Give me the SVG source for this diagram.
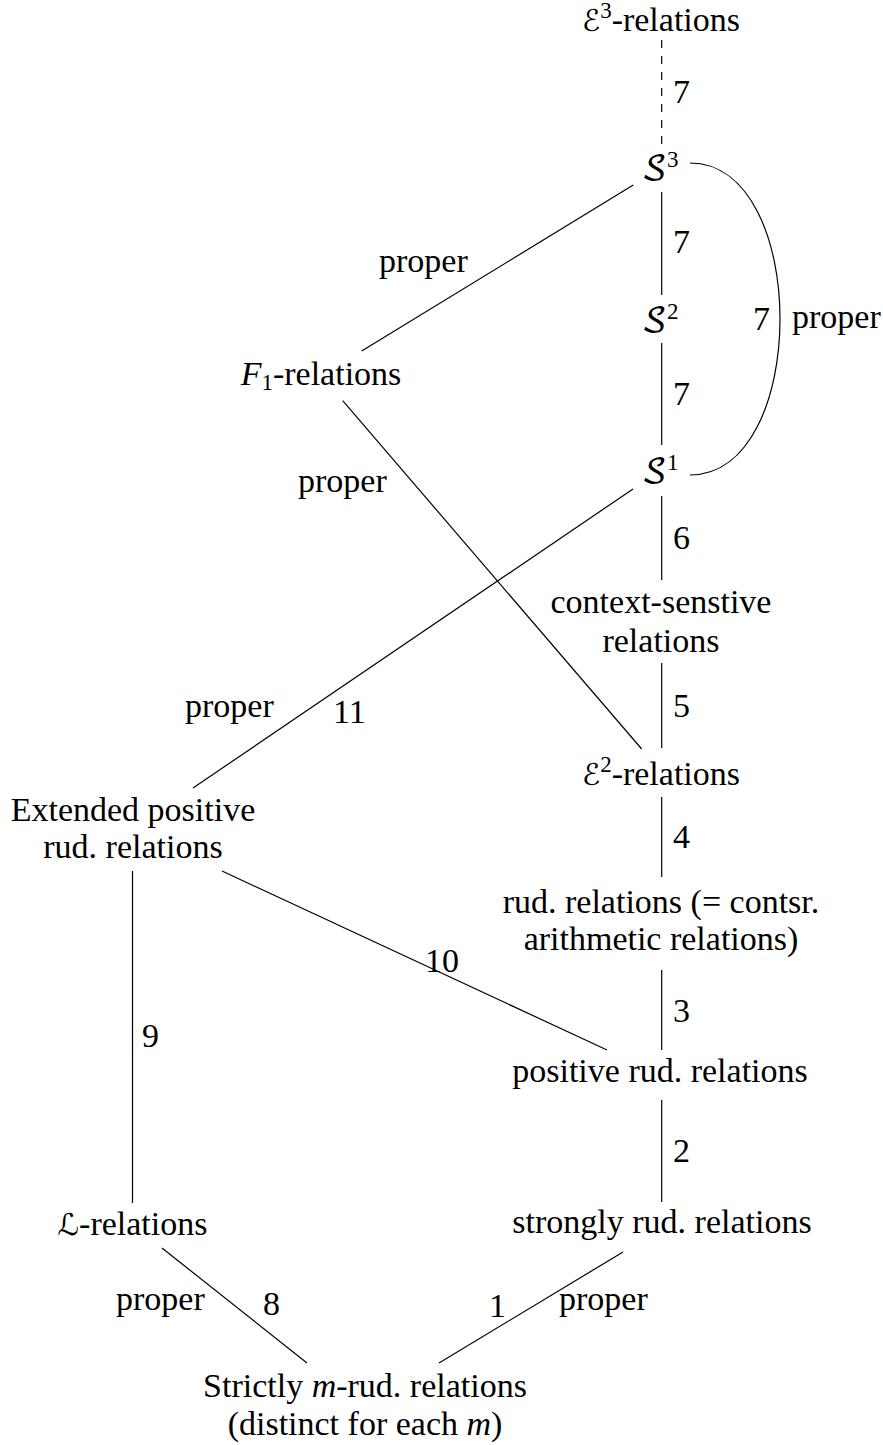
<svg xmlns="http://www.w3.org/2000/svg" width="883" height="1445" viewBox="0 0 883 1445">
<style>
text{font-family:"Liberation Serif","DejaVu Serif",serif;font-size:34px;fill:#000}
.n{text-anchor:middle}
.cal{font-family:"DejaVu Serif","DejaVu Sans","Noto Sans",serif;font-style:normal;font-size:30px}
.scr{font-family:"DejaVu Math TeX Gyre","DejaVu Sans","Noto Sans",serif;font-style:normal;font-size:33px}
.it{font-style:italic}
.sub{font-size:23px}
line,path{stroke:#000;stroke-width:1.2;fill:none}
.dash{stroke-dasharray:8 8}
</style>
<rect width="883" height="1445" fill="#fff"/>
<g id="connectors">
<line class="dash" x1="661.7" y1="40" x2="661.7" y2="145"/>
<line x1="661.7" y1="192" x2="661.7" y2="295"/>
<line x1="661.7" y1="343" x2="661.7" y2="445"/>
<line x1="661.7" y1="496" x2="661.7" y2="580"/>
<line x1="661.7" y1="663" x2="661.7" y2="748"/>
<line x1="661.7" y1="797" x2="661.7" y2="877"/>
<line x1="661.7" y1="970" x2="661.7" y2="1050"/>
<line x1="661.7" y1="1100" x2="661.7" y2="1202"/>
<path d="M690,163 C810,163 810,475 690,475"/>
<line x1="361.7" y1="351" x2="633.3" y2="185"/>
<line x1="342.7" y1="400.7" x2="641.7" y2="749"/>
<line x1="633" y1="489" x2="193" y2="788"/>
<line x1="222" y1="871" x2="607" y2="1050"/>
<line x1="132.5" y1="871" x2="132.5" y2="1203"/>
<line x1="162" y1="1248" x2="307" y2="1363"/>
<line x1="623" y1="1252" x2="439" y2="1363"/>
<text x="673" y="103">7</text>
<text x="673" y="253">7</text>
<text x="753" y="330">7</text>
<text x="792" y="328">proper</text>
<text x="673" y="405">7</text>
<text x="673" y="549">6</text>
<text x="673" y="717">5</text>
<text x="673" y="848">4</text>
<text x="673" y="1022">3</text>
<text x="673" y="1162">2</text>
<text x="379" y="272">proper</text>
<text x="298" y="492">proper</text>
<text x="185" y="717">proper</text>
<text x="333" y="723">11</text>
<text x="425" y="972">10</text>
<text x="142" y="1047">9</text>
<text x="116" y="1310">proper</text>
<text x="263" y="1315">8</text>
<text x="489" y="1317">1</text>
<text x="559" y="1310">proper</text>
</g>
<g id="e3">
<text class="n" x="661" y="31"><tspan class="cal">ℰ</tspan><tspan class="sub" dy="-13">3</tspan><tspan dy="13">-relations</tspan></text>
</g>
<g id="s3">
<text class="n" x="660" y="180"><tspan class="scr">𝒮</tspan><tspan class="sub" dy="-13">3</tspan></text>
</g>
<g id="s2">
<text class="n" x="660" y="332"><tspan class="scr">𝒮</tspan><tspan class="sub" dy="-13">2</tspan></text>
</g>
<g id="s1">
<text class="n" x="660" y="483"><tspan class="scr">𝒮</tspan><tspan class="sub" dy="-13">1</tspan></text>
</g>
<g id="f1">
<text class="n" x="321" y="385"><tspan class="it">F</tspan><tspan class="sub" dy="5">1</tspan><tspan dy="-5">-relations</tspan></text>
</g>
<g id="cs">
<text class="n" x="661" y="613">context-senstive</text>
<text class="n" x="661" y="652">relations</text>
</g>
<g id="e2">
<text class="n" x="661" y="785"><tspan class="cal">ℰ</tspan><tspan class="sub" dy="-13">2</tspan><tspan dy="13">-relations</tspan></text>
</g>
<g id="rud">
<text class="n" x="661" y="913">rud. relations (= contsr.</text>
<text class="n" x="661" y="950">arithmetic relations)</text>
</g>
<g id="posrud">
<text class="n" x="660" y="1082">positive rud. relations</text>
</g>
<g id="strongrud">
<text class="n" x="662" y="1233">strongly rud. relations</text>
</g>
<g id="lrel">
<text class="n" x="132.5" y="1235"><tspan class="cal">ℒ</tspan>-relations</text>
</g>
<g id="extpos">
<text class="n" x="133" y="821">Extended positive</text>
<text class="n" x="133" y="858">rud. relations</text>
</g>
<g id="strict">
<text class="n" x="365" y="1397">Strictly <tspan class="it">m</tspan>-rud. relations</text>
<text class="n" x="365" y="1435">(distinct for each <tspan class="it">m</tspan>)</text>
</g>
</svg>
